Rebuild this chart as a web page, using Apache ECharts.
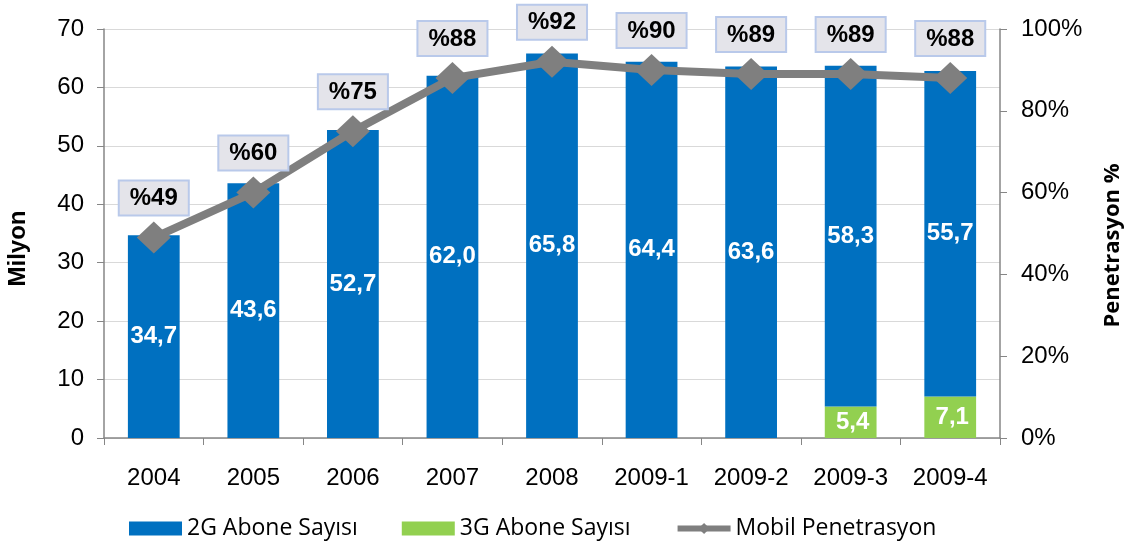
<!DOCTYPE html>
<html>
<head>
<meta charset="utf-8">
<script src="https://cdn.jsdelivr.net/npm/echarts@6/dist/echarts.min.js"></script>
<style>
  html, body { margin: 0; padding: 0; background: #fff; }
  #chart { width: 1129px; height: 546px; }
</style>
</head>
<body>
<div id="chart"></div>
<script>
// dönemler
const categories = ['2004', '2005', '2006', '2007', '2008', '2009-1', '2009-2', '2009-3', '2009-4']
// milyon abone
const abone2G = [34.7, 43.6, 52.7, 62.0, 65.8, 64.4, 63.6, 58.3, 55.7]
const abone3G = [null, null, null, null, null, null, null, 5.4, 7.1]
// penetrasyon %
const penetrasyon = [49, 60, 75, 88, 92, 90, 89, 89, 88]

const trNum = v => v.toFixed(1).replace('.', ',')
const tickFont = { fontFamily: 'Liberation Sans', color: '#000' }
const axisColor = '#868686'

const myChart = echarts.init(document.getElementById('chart'))
const option = {
  animation: false,
  grid: { left: 104, right: 129, top: 29, bottom: 108, containLabel: false, outerBoundsMode: 'none' },
  legend: {
    bottom: 1,
    left: 124,
    itemGap: 44,
    itemWidth: 53,
    itemHeight: 14,
    textStyle: { fontFamily: 'Open Sans', fontSize: 23, color: '#000' },
    data: [
      { name: '2G Abone Sayısı', icon: 'rect' },
      { name: '3G Abone Sayısı', icon: 'rect' },
      { name: 'Mobil Penetrasyon', lineStyle: { width: 6 } }
    ]
  },
  xAxis: {
    type: 'category',
    data: categories,
    axisLine: { lineStyle: { color: axisColor, width: 1.5 } },
    axisTick: { show: true, length: 7, lineStyle: { color: axisColor } },
    axisLabel: { ...tickFont, fontSize: 24, margin: 28 }
  },
  yAxis: [
    {
      type: 'value',
      min: 0,
      max: 70,
      interval: 10,
      name: 'Milyon',
      nameLocation: 'middle',
      nameGap: 74,
      nameTextStyle: { fontFamily: 'Liberation Sans', fontSize: 24, fontWeight: 'bold', color: '#000', padding: [0, 30, 0, 0] },
      axisLine: { show: true, lineStyle: { color: axisColor, width: 1.5 } },
      axisTick: { show: true, length: 7, lineStyle: { color: axisColor } },
      axisLabel: { ...tickFont, fontSize: 24, margin: 20 },
      splitLine: { lineStyle: { color: '#d9d9d9' } }
    },
    {
      type: 'value',
      min: 0,
      max: 100,
      interval: 20,
      position: 'right',
      name: 'Penetrasyon %',
      nameLocation: 'middle',
      nameGap: 102,
      nameRotate: 90,
      nameTextStyle: { fontFamily: 'Open Sans', fontSize: 22, fontWeight: 'bold', color: '#000', padding: [0, 24, 0, 0] },
      axisLine: { show: true, lineStyle: { color: axisColor, width: 1.5 } },
      axisTick: { show: true, length: 7, lineStyle: { color: axisColor } },
      axisLabel: { ...tickFont, fontSize: 24, margin: 21, formatter: '{value}%' },
      splitLine: { show: false }
    }
  ],
  series: [
    {
      name: '3G Abone Sayısı',
      type: 'bar',
      stack: 'abone',
      barWidth: '52%',
      data: abone3G,
      itemStyle: { color: '#92d050' },
      label: {
        show: true,
        position: 'inside',
        color: '#fff',
        fontFamily: 'Liberation Sans',
        fontWeight: 'bold',
        fontSize: 24,
        offset: [2, 0],
        formatter: p => (p.value == null ? '' : trNum(p.value))
      }
    },
    {
      name: '2G Abone Sayısı',
      type: 'bar',
      stack: 'abone',
      barWidth: '52%',
      data: abone2G,
      itemStyle: { color: '#0070c0' },
      label: {
        show: true,
        position: 'inside',
        color: '#fff',
        fontFamily: 'Liberation Sans',
        fontWeight: 'bold',
        fontSize: 24,
        formatter: p => trNum(p.value)
      }
    },
    {
      name: 'Mobil Penetrasyon',
      type: 'line',
      yAxisIndex: 1,
      data: penetrasyon,
      symbol: 'diamond',
      symbolSize: [34, 32],
      itemStyle: { color: '#7f7f7f' },
      lineStyle: { color: '#7f7f7f', width: 8 },
      label: {
        show: true,
        position: 'top',
        distance: 7,
        formatter: p => '%' + p.value,
        fontFamily: 'Liberation Sans',
        fontWeight: 'bold',
        fontSize: 24,
        color: '#000',
        backgroundColor: '#e4e4ea',
        borderColor: '#b9c9ea',
        borderWidth: 2,
        padding: [5, 10, 4, 10]
      },
      z: 5
    }
  ]
}
myChart.setOption(option)
</script>
</body>
</html>
